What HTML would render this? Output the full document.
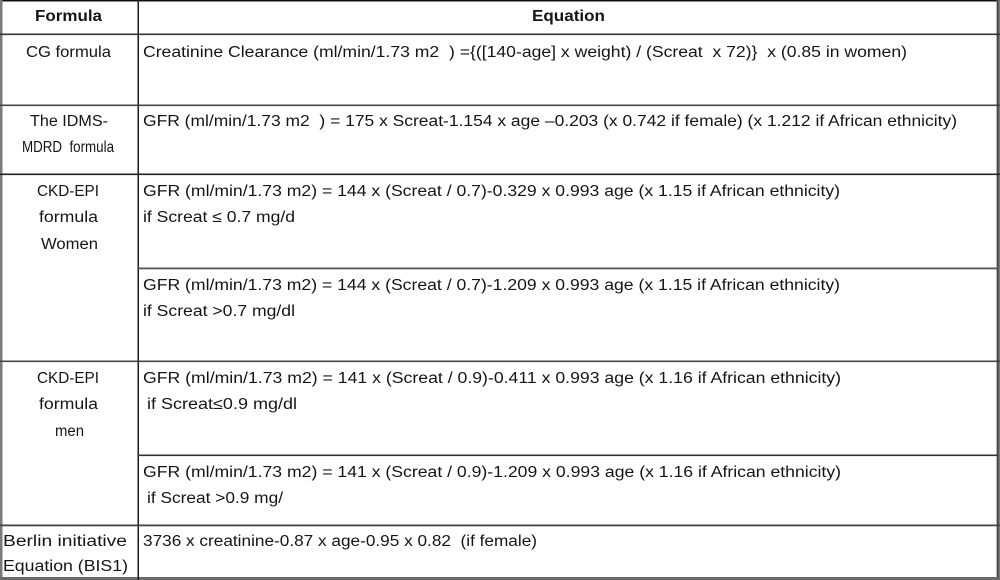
<!DOCTYPE html>
<html>
<head>
<meta charset="utf-8">
<style>
  html, body { margin: 0; padding: 0; background: #ffffff; }
  body { width: 1000px; height: 580px; overflow: hidden; }
  svg { display: block; }
  text { font-family: "Liberation Sans", Arial, sans-serif; font-size: 15.5px; fill: #151515; white-space: pre; }
  .b { font-weight: bold; }
</style>
</head>
<body>
<svg width="1000" height="580" viewBox="0 0 1000 580" xmlns="http://www.w3.org/2000/svg">
  <rect x="0" y="0" width="1000" height="580" fill="#ffffff"/>

  <!-- borders -->
  <rect x="0" y="0" width="1000" height="1.5" fill="#111"/>
  <rect x="0" y="0" width="2.5" height="580" fill="#7a7a7a"/>
  <rect x="996.5" y="0" width="3.5" height="580" fill="#7a7a7a"/>
  <rect x="997" y="0" width="1.5" height="580" fill="#444"/>
  <rect x="0" y="577" width="1000" height="3" fill="#6a6a6a"/>
  <rect x="137.5" y="0" width="1.5" height="580" fill="#1a1a1a"/>

  <!-- horizontal lines -->
  <rect x="0" y="33.5" width="1000" height="1.6" fill="#333"/>
  <rect x="0" y="104.5" width="1000" height="1.6" fill="#444"/>
  <rect x="0" y="173.5" width="1000" height="1.6" fill="#222"/>
  <rect x="138" y="267.5" width="860" height="1.8" fill="#555"/>
  <rect x="0" y="360.5" width="1000" height="1.6" fill="#444"/>
  <rect x="138" y="454.5" width="860" height="1.6" fill="#333"/>
  <rect x="0" y="524.5" width="1000" height="1.8" fill="#444"/>

  <!-- header -->
  <text class="b" x="35" y="21" textLength="67" lengthAdjust="spacingAndGlyphs">Formula</text>
  <text class="b" x="532" y="21" textLength="73" lengthAdjust="spacingAndGlyphs">Equation</text>

  <!-- CG row -->
  <text x="26" y="57" textLength="85" lengthAdjust="spacingAndGlyphs">CG formula</text>
  <text x="143" y="57" textLength="764" lengthAdjust="spacingAndGlyphs">Creatinine Clearance (ml/min/1.73 m2  ) ={([140-age] x weight) / (Screat  x 72)}  x (0.85 in women)</text>

  <!-- IDMS row -->
  <text x="30" y="126" textLength="78" lengthAdjust="spacingAndGlyphs">The IDMS-</text>
  <text x="22" y="152" textLength="92" lengthAdjust="spacingAndGlyphs">MDRD  formula</text>
  <text x="143" y="126" textLength="814" lengthAdjust="spacingAndGlyphs">GFR (ml/min/1.73 m2  ) = 175 x Screat-1.154 x age –0.203 (x 0.742 if female) (x 1.212 if African ethnicity)</text>

  <!-- CKD-EPI women -->
  <text x="37" y="196" textLength="62" lengthAdjust="spacingAndGlyphs">CKD-EPI</text>
  <text x="39" y="222" textLength="59" lengthAdjust="spacingAndGlyphs">formula</text>
  <text x="41" y="249" textLength="57" lengthAdjust="spacingAndGlyphs">Women</text>
  <text x="143" y="196" textLength="697" lengthAdjust="spacingAndGlyphs">GFR (ml/min/1.73 m2) = 144 x (Screat / 0.7)-0.329 x 0.993 age (x 1.15 if African ethnicity)</text>
  <text x="143" y="222" textLength="152" lengthAdjust="spacingAndGlyphs">if Screat ≤ 0.7 mg/d</text>
  <text x="143" y="290" textLength="697" lengthAdjust="spacingAndGlyphs">GFR (ml/min/1.73 m2) = 144 x (Screat / 0.7)-1.209 x 0.993 age (x 1.15 if African ethnicity)</text>
  <text x="143" y="316" textLength="152" lengthAdjust="spacingAndGlyphs">if Screat &gt;0.7 mg/dl</text>

  <!-- CKD-EPI men -->
  <text x="37" y="383" textLength="62" lengthAdjust="spacingAndGlyphs">CKD-EPI</text>
  <text x="39" y="409" textLength="59" lengthAdjust="spacingAndGlyphs">formula</text>
  <text x="55" y="436" textLength="29" lengthAdjust="spacingAndGlyphs">men</text>
  <text x="143" y="383" textLength="698" lengthAdjust="spacingAndGlyphs">GFR (ml/min/1.73 m2) = 141 x (Screat / 0.9)-0.411 x 0.993 age (x 1.16 if African ethnicity)</text>
  <text x="147" y="409" textLength="150" lengthAdjust="spacingAndGlyphs">if Screat≤0.9 mg/dl</text>
  <text x="143" y="477" textLength="698" lengthAdjust="spacingAndGlyphs">GFR (ml/min/1.73 m2) = 141 x (Screat / 0.9)-1.209 x 0.993 age (x 1.16 if African ethnicity)</text>
  <text x="147" y="503" textLength="136" lengthAdjust="spacingAndGlyphs">if Screat &gt;0.9 mg/</text>

  <!-- BIS row -->
  <text x="3" y="546" textLength="124" lengthAdjust="spacingAndGlyphs">Berlin initiative</text>
  <text x="3" y="571" textLength="125" lengthAdjust="spacingAndGlyphs">Equation (BIS1)</text>
  <text x="143" y="546" textLength="394" lengthAdjust="spacingAndGlyphs">3736 x creatinine-0.87 x age-0.95 x 0.82  (if female)</text>
</svg>
</body>
</html>
